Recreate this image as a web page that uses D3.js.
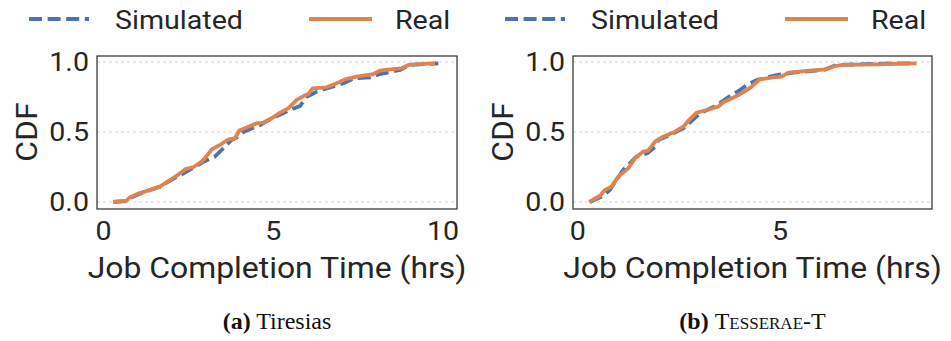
<!DOCTYPE html>
<meta charset="utf-8">
<style>
    body { margin: 0; background: #fff; }
    text { fill: #262626; font-family: Roboto, "Noto Sans", sans-serif; }
    .grid line { stroke: #c8c8c8; stroke-width: 0.8px; stroke-dasharray: 3,3; }
    .frame { fill: none; stroke: #333; stroke-width: 1.25px; }
    .line { fill: none; stroke-width: 3.8px; stroke-linejoin: round; }
    .sim { stroke: #4c72b0; stroke-dasharray: 13,5.6; }
    .real { stroke: #dd8452; }
    .caption { font-family: "Liberation Serif", "DejaVu Serif", serif; font-size: 24px; fill: #111; }
</style>
<svg width="951" height="341"></svg>
<script src="https://d3js.org/d3.v7.min.js"></script>
<script>

    // Tiresias: job completion time (hrs) vs CDF
    var tiresiasReal = [
        [0.29, 0.0], [0.68, 0.01], [0.76, 0.03], [1.03, 0.06], [1.66, 0.11], [1.91, 0.15],
        [2.15, 0.186], [2.40, 0.233], [2.65, 0.25], [2.89, 0.288], [3.02, 0.324], [3.19, 0.376],
        [3.43, 0.407], [3.68, 0.448], [3.87, 0.455], [4.00, 0.51], [4.22, 0.533], [4.51, 0.562],
        [4.71, 0.567], [4.95, 0.598], [5.20, 0.638], [5.44, 0.669], [5.69, 0.729], [5.89, 0.757],
        [6.03, 0.771], [6.16, 0.812], [6.57, 0.819], [6.87, 0.848], [7.11, 0.876], [7.46, 0.895],
        [7.95, 0.914], [8.14, 0.938], [8.44, 0.948], [8.78, 0.955], [8.98, 0.979], [9.42, 0.986],
        [9.76, 0.99]
    ];
    var tiresiasSim = [
        [0.29, 0.0], [0.68, 0.007], [0.76, 0.025], [1.08, 0.06], [1.66, 0.11], [1.91, 0.145],
        [2.21, 0.186], [2.40, 0.21], [2.95, 0.288], [3.28, 0.324], [3.53, 0.384], [3.77, 0.443],
        [3.92, 0.46], [4.12, 0.50], [4.61, 0.55], [4.90, 0.59], [5.49, 0.657], [5.79, 0.686],
        [5.98, 0.752], [6.28, 0.788], [6.67, 0.819], [7.07, 0.848], [7.36, 0.883], [7.85, 0.89],
        [8.14, 0.914], [8.73, 0.943], [9.03, 0.979], [9.86, 0.99]
    ];

    // Tesserae-T
    var tesseraeReal = [
        [0.28, 0.0], [0.54, 0.043], [0.67, 0.086], [0.83, 0.11], [1.00, 0.181], [1.245, 0.24],
        [1.41, 0.312], [1.62, 0.36], [1.74, 0.367], [1.91, 0.431], [2.11, 0.467], [2.40, 0.502],
        [2.61, 0.538], [2.73, 0.579], [2.94, 0.638], [3.19, 0.657], [3.47, 0.681], [3.60, 0.712],
        [3.89, 0.752], [4.09, 0.783], [4.30, 0.824], [4.50, 0.876], [4.83, 0.89], [5.04, 0.895],
        [5.21, 0.924], [5.74, 0.938], [6.15, 0.948], [6.36, 0.971], [6.57, 0.979], [7.39, 0.983],
        [8.38, 0.99]
    ];
    var tesseraeSim = [
        [0.30, 0.0], [0.62, 0.043], [0.79, 0.086], [1.12, 0.229], [1.45, 0.324], [1.72, 0.348],
        [1.91, 0.395], [1.99, 0.443], [2.28, 0.479], [2.61, 0.526], [3.02, 0.633], [3.43, 0.69],
        [3.68, 0.741], [4.01, 0.80], [4.18, 0.836], [4.42, 0.871], [4.92, 0.907], [5.33, 0.924],
        [6.07, 0.943], [6.40, 0.979], [7.80, 0.99], [8.33, 0.99]
    ];

    var yTicks = [0, 0.5, 1.0];
    var panels = [
        {real: tiresiasReal, sim: tiresiasSim, xDomain: [-0.19, 10.41], xTicks: [0, 5, 10],
         left: 97, right: 457, label: "(a)", name: "Tiresias", smallCaps: false},
        {real: tesseraeReal, sim: tesseraeSim, xDomain: [-0.12, 8.76], xTicks: [0, 5],
         left: 573, right: 932, label: "(b)", name: "Tesserae-T", smallCaps: true}
    ];

    var svg = d3.select("svg"),
        plotTop = 56, plotBottom = 209,
        sx = 1.1;   // the reference text is a bit wider than Roboto

    var y = d3.scaleLinear().domain([-0.05, 1.043]).range([plotBottom, plotTop]);

    function label(g, x, yy, size, str, anchor, rot) {
        return g.append("text")
            .attr("transform", "translate(" + x + "," + yy + ")" + (rot ? " rotate(-90)" : "") + " scale(" + sx + ",1)")
            .attr("text-anchor", anchor || "start")
            .style("font-size", size + "px")
            .text(str);
    }

    panels.forEach(function(p) {
        var x = d3.scaleLinear().domain(p.xDomain).range([p.left, p.right]);
        var cx = (p.left + p.right) / 2;

        var line = d3.line()
            .x(function(d) { return x(d[0]); })
            .y(function(d) { return y(d[1]); });

        var g = svg.append("g");

        g.append("g")
            .attr("class", "grid")
            .selectAll("line")
            .data(yTicks)
            .enter().append("line")
            .attr("x1", p.left).attr("x2", p.right)
            .attr("y1", function(d) { return y(d); })
            .attr("y2", function(d) { return y(d); });

        g.append("path").datum(p.sim).attr("class", "line sim").attr("d", line);
        g.append("path").datum(p.real).attr("class", "line real").attr("d", line);

        g.append("rect")
            .attr("class", "frame")
            .attr("x", p.left).attr("y", plotTop)
            .attr("width", p.right - p.left).attr("height", plotBottom - plotTop);

        yTicks.forEach(function(t) {
            label(g, p.left - 8, y(t) + 9, 26, d3.format(".1f")(t), "end");
        });
        p.xTicks.forEach(function(t) {
            label(g, x(t), 240, 26, t, "middle");
        });

        label(g, p.left - 60, y(0.5), 29, "CDF", "middle", true);
        label(g, cx, 278, 29, "Job Completion Time (hrs)", "middle");

        var cap = g.append("text")
            .attr("class", "caption")
            .attr("x", cx)
            .attr("y", 329)
            .attr("text-anchor", "middle");
        cap.append("tspan").style("font-weight", "bold").text(p.label);
        cap.append("tspan").text(" ");
        cap.append("tspan").style("font-variant", p.smallCaps ? "small-caps" : "normal").text(p.name);

        // legend
        var lx = p.left - 68;
        g.append("line").attr("class", "line sim")
            .attr("x1", lx).attr("x2", lx + 60).attr("y1", 19).attr("y2", 19);
        label(g, lx + 86, 29, 26, "Simulated");
        g.append("line").attr("class", "line real")
            .attr("x1", lx + 280).attr("x2", lx + 343).attr("y1", 19).attr("y2", 19);
        label(g, lx + 366, 29, 26, "Real");
    });

</script>
